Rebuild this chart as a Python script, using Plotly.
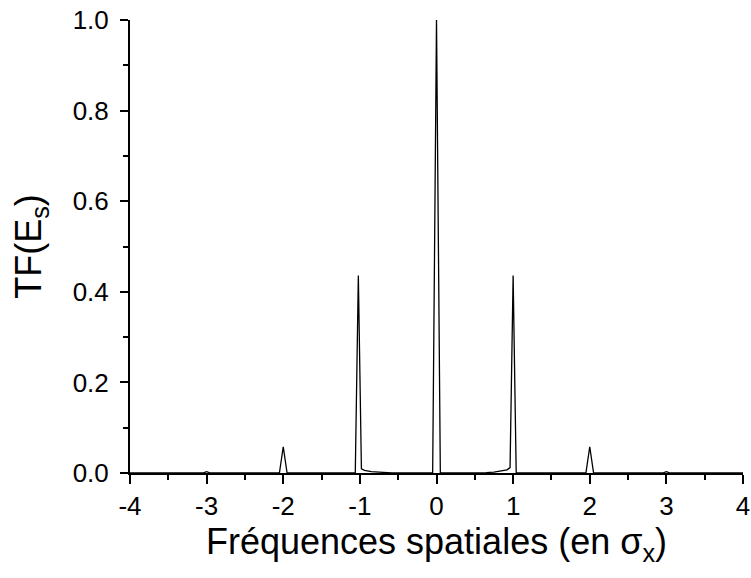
import plotly.graph_objects as go

freq = [-4.0, -3.05, -3.0, -2.95, -2.05, -2.0, -1.95, -1.06, -1.02, -0.98, -0.94,
        -0.85, -0.75, -0.65, -0.58, -0.05, 0.0, 0.05, 0.55, 0.65, 0.75, 0.85,
        0.92, 0.96, 1.0, 1.04, 1.95, 2.0, 2.05, 2.95, 3.0, 3.05, 4.0]
amp = [0.0, 0.0, 0.003, 0.0, 0.0, 0.058, 0.0, 0.0, 0.436, 0.009, 0.006,
       0.003, 0.002, 0.001, 0.0, 0.0, 1.0, 0.0, 0.0, 0.001, 0.002, 0.004,
       0.007, 0.012, 0.436, 0.0, 0.0, 0.058, 0.0, 0.0, 0.003, 0.0, 0.0]

x_ticks = [-4, -3, -2, -1, 0, 1, 2, 3, 4]
y_ticks = [0.0, 0.2, 0.4, 0.6, 0.8, 1.0]

fig = go.Figure(go.Scatter(x=freq, y=amp, mode="lines",
                           line=dict(color="black", width=1.3)))

font = "Liberation Sans, Arial, sans-serif"
fig.update_layout(
    width=751, height=578,
    margin=dict(l=130, r=8, t=20, b=105),
    paper_bgcolor="white", plot_bgcolor="white",
    showlegend=False,
    font=dict(family=font, color="black"),
)
fig.update_xaxes(
    range=[-4, 4], tickvals=x_ticks, ticktext=[str(v) for v in x_ticks],
    automargin=False, ticklabeloverflow="allow",
    showgrid=False, zeroline=False, showline=True, linecolor="black", linewidth=2,
    ticks="outside", ticklen=9, tickwidth=2, tickcolor="black",
    minor=dict(dtick=0.5, ticks="outside", ticklen=5, tickwidth=2, tickcolor="black", showgrid=False),
    tickfont=dict(size=26, family=font),
    title=dict(text="Fréquences spatiales (en σ<sub>x</sub>)", font=dict(size=36, family=font), standoff=8),
)
fig.update_yaxes(
    range=[0, 1.0], tickvals=y_ticks, ticktext=[f"{v:.1f}" for v in y_ticks],
    automargin=False, ticklabeloverflow="allow", ticklabelstandoff=6,
    showgrid=False, zeroline=False, showline=True, linecolor="black", linewidth=2,
    ticks="outside", ticklen=8, tickwidth=2, tickcolor="black",
    minor=dict(dtick=0.1, ticks="outside", ticklen=5, tickwidth=2, tickcolor="black", showgrid=False),
    tickfont=dict(size=26, family=font),
    title=dict(text="TF(E<sub>s</sub>)", font=dict(size=36, family=font), standoff=20),
)
fig.write_html("out.html", config={"displayModeBar": False},
               post_script="document.body.style.margin='0';")
